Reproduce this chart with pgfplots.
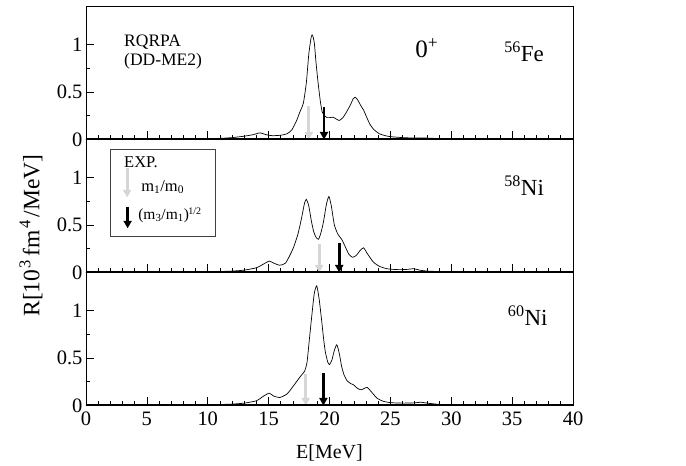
\documentclass[border=0pt]{standalone}
\usepackage{fontspec}
\setmainfont{Liberation Serif}
\usepackage{pgfplots}
\pgfplotsset{compat=1.18}
\usetikzlibrary{arrows.meta}

\pgfplotstableread{
E R
0 0
5 0.002
8 0.004
10 0.008
11 0.012
12 0.02
13 0.035
13.7 0.05
14.3 0.07
14.8 0.05
15.3 0.04
16.0 0.045
16.5 0.06
16.9 0.1
17.3 0.2
17.6 0.3
17.85 0.38
18.1 0.6
18.3 0.9
18.5 1.08
18.6 1.1
18.75 1.02
18.9 0.8
19.07 0.59
19.25 0.4
19.4 0.29
19.6 0.25
19.8 0.23
20.0 0.23
20.3 0.235
20.5 0.22
20.8 0.2
21.1 0.23
21.4 0.29
21.7 0.36
21.95 0.43
22.1 0.445
22.3 0.42
22.6 0.35
22.8 0.31
23.0 0.25
23.3 0.165
23.6 0.11
24.1 0.06
24.6 0.04
25 0.03
26 0.02
27 0.015
28 0.015
29 0.01
30 0.007
32 0.004
35 0.002
40 0.001
}\fe

\pgfplotstableread{
E R
0 0
8 0.003
10 0.006
12 0.015
13 0.025
14 0.05
14.6 0.09
15.05 0.12
15.4 0.1
15.9 0.077
16.4 0.1
17.0 0.25
17.4 0.4
17.7 0.57
17.95 0.73
18.1 0.77
18.3 0.7
18.5 0.55
18.7 0.43
18.9 0.37
19.1 0.35
19.3 0.42
19.5 0.53
19.75 0.72
19.95 0.8
20.15 0.7
20.4 0.5
20.7 0.4
21.0 0.35
21.3 0.27
21.6 0.19
21.9 0.16
22.2 0.18
22.5 0.23
22.8 0.26
23.1 0.2
23.6 0.11
24.1 0.065
24.7 0.04
25.3 0.032
25.8 0.03
26.4 0.033
26.9 0.04
27.4 0.025
28 0.015
29 0.01
30 0.006
33 0.003
40 0.001
}\nia

\pgfplotstableread{
E R
0 0
8 0.003
10 0.006
12 0.015
13 0.025
14 0.05
14.6 0.1
15.05 0.13
15.4 0.1
15.9 0.084
16.5 0.12
17.0 0.2
17.4 0.27
17.7 0.32
17.95 0.36
18.15 0.45
18.35 0.7
18.55 0.95
18.75 1.18
18.95 1.26
19.15 1.12
19.35 0.9
19.5 0.72
19.65 0.57
19.85 0.46
20.0 0.43
20.2 0.48
20.4 0.58
20.6 0.64
20.8 0.55
21.0 0.41
21.2 0.32
21.45 0.26
21.75 0.23
21.95 0.22
22.3 0.18
22.6 0.165
22.85 0.18
23.1 0.19
23.4 0.15
23.9 0.077
24.4 0.045
25 0.03
26 0.025
27 0.028
27.5 0.035
28 0.025
29.2 0.01
31 0.005
35 0.002
40 0.001
}\nib

\definecolor{lgray}{gray}{0.84}

\pgfplotsset{panel/.style={
  scale only axis, width=487pt, height=133pt,
  xmin=0, xmax=40, ymin=0, ymax=1.4,
  xtick={0,5,...,40}, minor x tick num=4,
  ytick={0,0.5,1}, minor y tick num=1,
  tick pos=left, tick align=inside,
  major tick length=8pt, minor tick length=4.5pt,
  axis line style={line width=0.7pt},
  every tick/.style={line width=0.7pt, black},
  ticklabel style={font=\fontsize{20.5}{21}\selectfont},
  /pgf/number format/assume math mode=true,
  xticklabel style={yshift=-3pt},
},
curve/.style={black, line width=0.7pt, no markers, smooth, tension=0.35},
garr/.style={lgray, line width=2.8pt, no markers, -{Triangle[width=8pt,length=7.5pt]}},
barr/.style={black, line width=2.8pt, no markers, -{Triangle[width=8pt,length=7.5pt]}}
}

\begin{document}
\begin{tikzpicture}
\useasboundingbox (-86pt,-60.5pt) rectangle (600pt,405.5pt);

% top panel
\begin{axis}[panel, at={(0,266pt)}, xticklabels={}]
\addplot[curve] table[x=E,y=R]{\fe};
\addplot[garr] coordinates {(18.3,0.35) (18.3,0)};
\addplot[barr] coordinates {(19.55,0.34) (19.55,0)};
\draw[line width=2pt] (axis cs:0,0) -- (axis cs:40,0);
\node[anchor=west, font=\fontsize{17.5}{18}\selectfont] at (axis cs:2.85,1.02) {RQRPA};
\node[anchor=west, font=\fontsize{17.5}{18}\selectfont] at (axis cs:2.85,0.82) {(DD-ME2)};
\node[font=\fontsize{25}{26}\selectfont] at (axis cs:28.0,0.96) {0\textsuperscript{+}};
\node[anchor=east, font=\fontsize{23}{24}\selectfont] at (axis cs:37.9,0.92) {\textsuperscript{56}Fe};
\end{axis}

% middle panel
\begin{axis}[panel, at={(0,133pt)}, xticklabels={}]
\addplot[curve] table[x=E,y=R]{\nia};
\addplot[garr] coordinates {(19.15,0.30) (19.15,0)};
\addplot[barr] coordinates {(20.8,0.31) (20.8,0)};
\draw[line width=2pt] (axis cs:0,0) -- (axis cs:40,0);
\draw[black!75, line width=0.8pt] (axis cs:2.03,0.385) rectangle (axis cs:10.6,1.30);
\node[anchor=west, font=\fontsize{16.5}{17}\selectfont] at (axis cs:2.85,1.16) {EXP.};
\addplot[garr] coordinates {(3.38,1.10) (3.38,0.79)};
\addplot[barr] coordinates {(3.42,0.69) (3.42,0.465)};
\node[anchor=west, font=\fontsize{16.5}{17}\selectfont] at (axis cs:4.25,0.90) {m\textsubscript{1}/m\textsubscript{0}};
\node[anchor=west, inner sep=1pt, font=\fontsize{15.5}{16}\selectfont] at (axis cs:4.2,0.60) {(m\textsubscript{3}/m\textsubscript{1})\textsuperscript{\kern-0.5pt\fontsize{10}{10}\selectfont 1/2}};
\node[anchor=east, font=\fontsize{23}{24}\selectfont] at (axis cs:37.9,0.91) {\textsuperscript{58}Ni};
\end{axis}

% bottom panel
\begin{axis}[panel, at={(0,0pt)}]
\addplot[curve] table[x=E,y=R]{\nib};
\addplot[garr] coordinates {(18.05,0.33) (18.05,0)};
\addplot[barr] coordinates {(19.5,0.34) (19.5,0)};
\draw[line width=2pt] (axis cs:0,0) -- (axis cs:40,0);
\node[anchor=east, font=\fontsize{23}{24}\selectfont] at (axis cs:38.2,0.95) {\textsuperscript{60}Ni};
\end{axis}

\node[font=\fontsize{20}{21}\selectfont] at (243.5pt,-47pt) {E[MeV]};
\node[rotate=90, font=\fontsize{23.5}{24}\selectfont] at (-55pt,170pt) {R[10\textsuperscript{\kern1.5pt 3\kern3pt}fm\textsuperscript{\kern1.5pt 4\kern3pt}/MeV]};
\end{tikzpicture}
\end{document}
